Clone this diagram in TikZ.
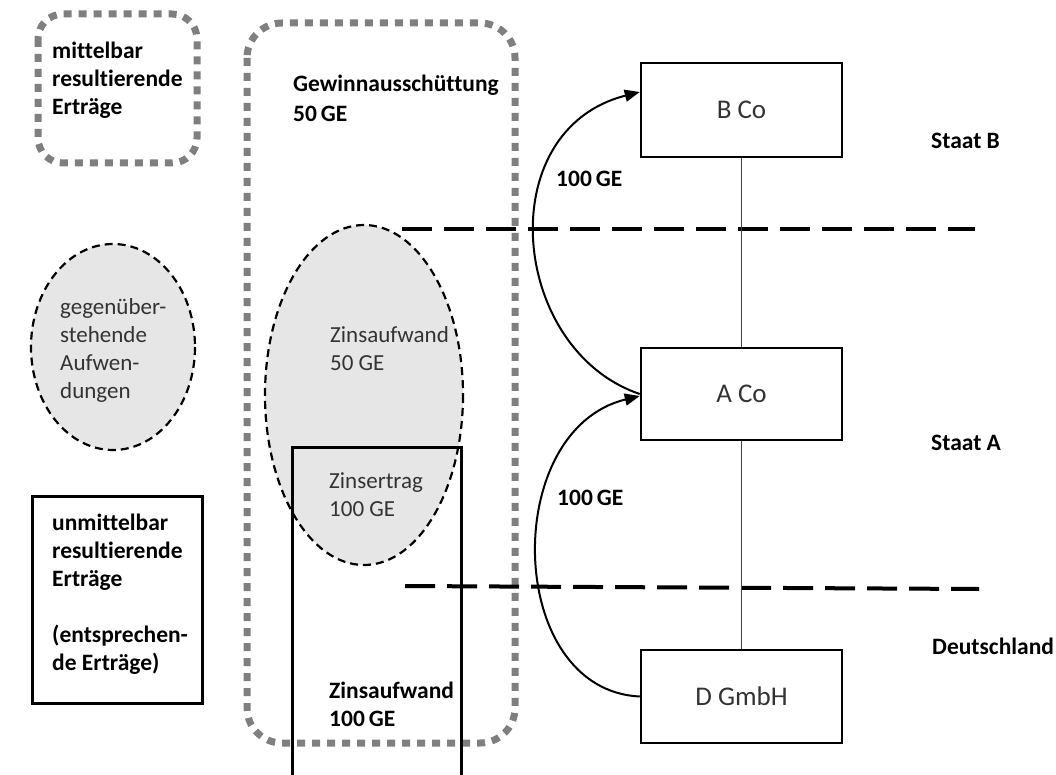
\documentclass[tikz,border=0pt]{standalone}
\usepackage{fontspec}
\setmainfont{Carlito}[Ligatures=NoCommon]
\usetikzlibrary{arrows.meta,calc}
\definecolor{dotgray}{HTML}{7F7F7F}
\definecolor{ellfill}{HTML}{E6E6E6}
\definecolor{txtgray}{HTML}{333333}
\tikzset{
  dotbox/.style={draw=dotgray, line width=7pt, dash pattern=on 8pt off 7pt},
  gell/.style={draw=black, fill=ellfill, line width=2.2pt, dash pattern=on 8pt off 5pt},
  solidbox/.style={draw=black, line width=3pt},
  cobox/.style={draw=black, line width=2.5pt, minimum width=201pt, minimum height=94pt, inner sep=0pt, text=txtgray, font=\fontsize{27}{32}\selectfont},
  vline/.style={draw=black!75, line width=1.5pt},
  border/.style={draw=black, line width=4pt, dash pattern=on 30pt off 12pt},
  curve/.style={draw=black, line width=2pt},
  tip/.style={-{Triangle[length=15pt,width=12pt]}},
  lbl/.style={anchor=north west, inner sep=0pt, align=left, text=txtgray, font=\fontsize{23}{28}\selectfont},
  blbl/.style={anchor=north west, inner sep=0pt, align=left, text=black, font=\bfseries\fontsize{23.5}{28}\selectfont}
}
\begin{document}
\begin{tikzpicture}[x=1pt,y=-1pt]
\useasboundingbox (0,0) rectangle (1056,775);

% legend: dotted box
\draw[dotbox, rounded corners=25pt] (38,14) rectangle (197,163);
\node[blbl] (lm) at (52,42) {mittelbar\\resultierende\\Erträge};

% legend: dashed ellipse
\draw[gell] (113,347) ellipse [x radius=82, y radius=103];
\node[lbl] (lg) at (60,298) {gegenüber-\\stehende\\Aufwen-\\dungen};

% legend: solid box
\draw[solidbox] (32,496) rectangle (202,703);
\node[blbl] (lu) at (52,514) {unmittelbar\\resultierende\\Erträge\\[28pt](entsprechen-\\de Erträge)};

% big dotted box
\draw[dotbox, rounded corners=35pt] (247,23) rectangle (515,743);
\node[blbl, font=\bfseries\fontsize{23.5}{30}\selectfont] (gw) at (293,75) {Gewinnausschüttung\\50\,GE};

% ellipse
\draw[gell] (364,395) ellipse [x radius=99, y radius=170];
\node[lbl] (za) at (330,326) {Zinsaufwand\\50 GE};

% open solid rectangle
\draw[solidbox] (292,790) -- (292,447) -- (461,447) -- (461,790);
\node[lbl] (zt) at (329,472) {Zinsertrag\\100 GE};
\node[blbl] (zb) at (329,682) {Zinsaufwand\\100\,GE};

% borders between states
\draw[border] (402,229) -- (975,229);
\draw[border] (405,586) -- (979,589);

% companies
\node[cobox] (B) at (741.5,110) {B Co};
\node[cobox, minimum height=92pt] (A) at (741.5,394) {A Co};
\node[cobox, minimum height=93pt] (D) at (741.5,696.5) {D GmbH};
\draw[vline] (B.south) -- (A.north);
\draw[vline] (A.south) -- (D.north);

% flows
\draw[curve, tip] (A.west) .. controls (510,350) and (490,130) .. ([yshift=18pt]B.west);
\draw[curve, tip] (D.west) .. controls (505,690) and (500,430) .. ([yshift=-2pt]A.west);
\node[blbl] (f1) at (556,171) {100\,GE};
\node[blbl] (f2) at (557,490) {100\,GE};

% state labels
\node[blbl] (sb) at (931,133) {Staat B};
\node[blbl] (sa) at (931,435) {Staat A};
\node[blbl] (de) at (932,638) {Deutschland};
\end{tikzpicture}
\end{document}
